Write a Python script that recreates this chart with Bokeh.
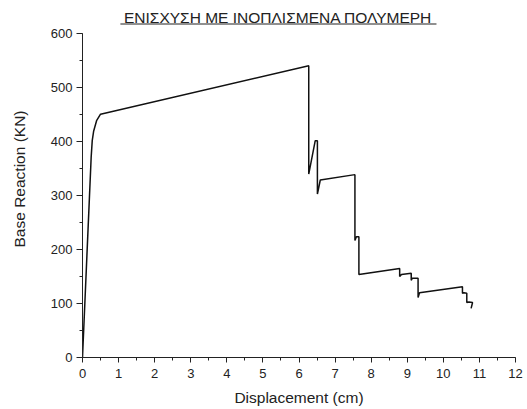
from bokeh.plotting import figure
from bokeh.models import Range1d, SingleIntervalTicker, Label, BoxAnnotation
from bokeh.embed import file_html
from bokeh.resources import INLINE

# ---- data ----
displacement_cm = [0.0, 0.24, 0.27, 0.31, 0.39, 0.50, 6.27, 6.27, 6.45, 6.51, 6.51, 6.59,
                   7.55, 7.55, 7.59, 7.66, 7.66, 8.79, 8.79, 8.84, 9.11, 9.11, 9.14, 9.30,
                   9.30, 9.34, 10.53, 10.53, 10.57, 10.65, 10.65, 10.71, 10.81, 10.77]
base_reaction_kn = [0, 371, 402, 420, 439, 451, 541, 340, 402, 402, 303, 329,
                    339, 217, 224, 224, 154, 165, 150, 154, 156, 143, 147, 147,
                    111, 120, 131, 119, 120, 119, 102, 103, 102, 91]

title_text = "ΕΝΙΣΧΥΣΗ ΜΕ ΙΝΟΠΛΙΣΜΕΝΑ ΠΟΛΥΜΕΡΗ"
x_label = "Displacement (cm)"
y_label = "Base Reaction (KN)"
x_min, x_max, x_step = 0, 12, 1
y_min, y_max, y_step = 0, 600, 100

FONT = "Liberation Sans"
INK = "#222222"

p = figure(width=527, height=409, output_backend="svg", toolbar_location=None,
           x_range=Range1d(x_min, x_max), y_range=Range1d(y_min, 661.8),
           min_border_left=82, min_border_right=12, min_border_top=0, min_border_bottom=52)
p.outline_line_color = None
p.grid.visible = False
p.background_fill_color = "white"
p.border_fill_color = "white"

p.line(displacement_cm, base_reaction_kn, line_color="#111111", line_width=1.5)

# axes
xa = p.xaxis[0]
xa.ticker = SingleIntervalTicker(interval=x_step, num_minor_ticks=2)
xa.bounds = (x_min, x_max)
xa.axis_label = x_label
ya = p.yaxis[0]
ya.ticker = SingleIntervalTicker(interval=y_step, num_minor_ticks=2)
ya.bounds = (y_min, y_max)
ya.axis_label = y_label

for ax, maj in ((xa, 5), (ya, 6)):
    ax.axis_line_color = INK
    ax.major_tick_line_color = INK
    ax.minor_tick_line_color = INK
    ax.major_tick_in = 0
    ax.major_tick_out = maj
    ax.minor_tick_in = 0
    ax.minor_tick_out = 3
    ax.major_label_text_font = FONT
    ax.major_label_text_font_size = "13px"
    ax.major_label_text_color = INK
    ax.axis_label_text_font = FONT
    ax.axis_label_text_font_size = "15.5px"
    ax.axis_label_text_font_style = "normal"
    ax.axis_label_text_color = INK

xa.major_label_standoff = 6
xa.axis_label_standoff = 8
ya.major_label_standoff = 4
ya.axis_label_standoff = 20

# title (underlined)
p.add_layout(Label(x=5.42, y=631.2, text=title_text, text_font=FONT,
                   text_font_size="15.5px", text_color=INK,
                   text_align="center", text_baseline="middle"))
p.add_layout(BoxAnnotation(left=1.05, right=9.81, bottom=617.4, top=619.2,
                           fill_color=INK, fill_alpha=1.0, line_alpha=0))

open("out.html", "w").write(file_html(p, INLINE))
